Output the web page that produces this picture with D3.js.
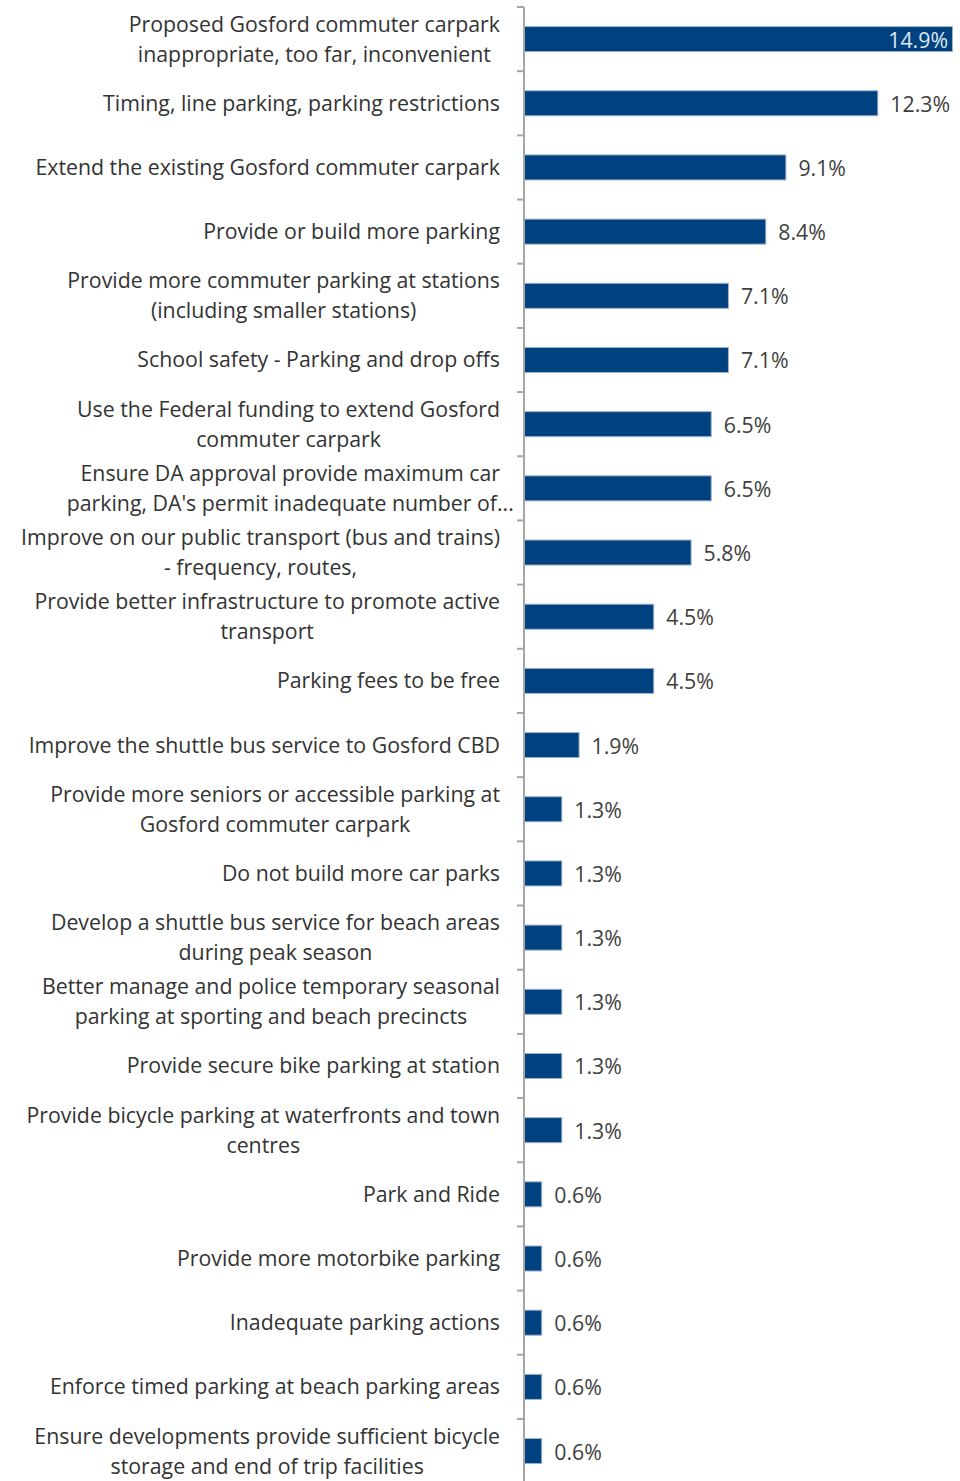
<!DOCTYPE html>
<html>
<head>
<meta charset="utf-8">
<script src="https://cdn.jsdelivr.net/npm/d3@7/dist/d3.min.js"></script>
<style>
  html, body { margin: 0; padding: 0; background: #fff; }
  svg { display: block; }
</style>
</head>
<body>
<svg id="chart" width="960" height="1481"></svg>
<script>
// Response categories (line breaks mark wrapped label lines)
const categories = [
  "Proposed Gosford commuter carpark\ninappropriate, too far, inconvenient",
  "Timing, line parking, parking restrictions",
  "Extend the existing Gosford commuter carpark",
  "Provide or build more parking",
  "Provide more commuter parking at stations\n(including smaller stations)",
  "School safety - Parking and drop offs",
  "Use the Federal funding to extend Gosford\ncommuter carpark",
  "Ensure DA approval provide maximum car\nparking, DA's permit inadequate number of...",
  "Improve on our public transport (bus and trains)\n- frequency, routes,",
  "Provide better infrastructure to promote active\ntransport",
  "Parking fees to be free",
  "Improve the shuttle bus service to Gosford CBD",
  "Provide more seniors or accessible parking at\nGosford commuter carpark",
  "Do not build more car parks",
  "Develop a shuttle bus service for beach areas\nduring peak season",
  "Better manage and police temporary seasonal\nparking at sporting and beach precincts",
  "Provide secure bike parking at station",
  "Provide bicycle parking at waterfronts and town\ncentres",
  "Park and Ride",
  "Provide more motorbike parking",
  "Inadequate parking actions",
  "Enforce timed parking at beach parking areas",
  "Ensure developments provide sufficient bicycle\nstorage and end of trip facilities"
];

// Share of responses (%)
const values = [14.9, 12.3, 9.1, 8.4, 7.1, 7.1, 6.5, 6.5, 5.8, 4.5, 4.5, 1.9, 1.3, 1.3, 1.3, 1.3, 1.3, 1.3, 0.6, 0.6, 0.6, 0.6, 0.6];

const data = categories.map((c, i) => ({ label: c, value: values[i] }));

const svg = d3.select("#chart");
const axisX = 524;
const plotTop = 7, step = 64.18;
const plotBottom = plotTop + step * data.length;
const fontFamily = "'Open Sans', 'Noto Sans', sans-serif";
const fontSize = 21.3;

const x = d3.scaleLinear().domain([0, 14.9]).range([axisX, 952]);
const y = d3.scaleBand().domain(d3.range(data.length)).range([plotTop, plotBottom]).paddingInner(0.61).paddingOuter(0.305);
const band = d3.scaleBand().domain(d3.range(data.length)).range([plotTop, plotBottom]);

// Bars
svg.append("g").selectAll("rect").data(data).join("rect")
  .attr("x", x(0) + 0.5)
  .attr("y", (d, i) => y(i))
  .attr("width", d => x(d.value) - x(0))
  .attr("height", y.bandwidth())
  .attr("fill", "#00427f")
  .attr("stroke", "#9fb3cb")
  .attr("stroke-width", 1);

// Category axis with ticks on band boundaries
const axisG = svg.append("g");
axisG.append("line")
  .attr("x1", axisX).attr("x2", axisX)
  .attr("y1", plotTop).attr("y2", 1481)
  .attr("stroke", "#a6a6a6").attr("stroke-width", 2);
axisG.selectAll("line.tick").data(d3.range(data.length + 1)).join("line")
  .attr("class", "tick")
  .attr("x1", axisX - 7).attr("x2", axisX)
  .attr("y1", i => band.step() * i + plotTop)
  .attr("y2", i => band.step() * i + plotTop)
  .attr("stroke", "#a6a6a6").attr("stroke-width", 2);

// Category labels: lines centred on each other, block right-aligned to the axis.
// A truncated line (ending in "...") may spill past the block.
const labelRight = 500;
const lineH = 30;
const labels = svg.append("g")
  .attr("font-family", fontFamily)
  .attr("font-size", fontSize)
  .attr("fill", "#333333");

data.forEach((d, i) => {
  const lines = d.label.split("\n");
  const g = labels.append("text").attr("text-anchor", "middle");
  const cy = band(i) + band.step() / 2;
  lines.forEach((ln, k) => {
    g.append("tspan")
      .attr("y", cy + (k - (lines.length - 1) / 2) * lineH)
      .attr("dy", "0.35em")
      .text(ln);
  });
  const tspans = g.selectAll("tspan").nodes();
  const widths = tspans
    .filter((t, k) => !lines[k].endsWith("..."))
    .map(t => t.getComputedTextLength());
  const maxW = d3.max(widths);
  g.selectAll("tspan").attr("x", labelRight - maxW / 2);
});

// Value labels
svg.append("g")
  .attr("font-family", fontFamily)
  .attr("font-size", fontSize)
  .selectAll("text").data(data).join("text")
  .attr("x", d => x(d.value) > 900 ? x(d.value) - 4 : x(d.value) + 13)
  .attr("y", (d, i) => y(i) + y.bandwidth() / 2 + 1)
  .attr("dy", "0.35em")
  .attr("text-anchor", d => x(d.value) > 900 ? "end" : "start")
  .attr("fill", d => x(d.value) > 900 ? "#dfe7f1" : "#404040")
  .text(d => d.value.toFixed(1) + "%");
</script>
</body>
</html>
